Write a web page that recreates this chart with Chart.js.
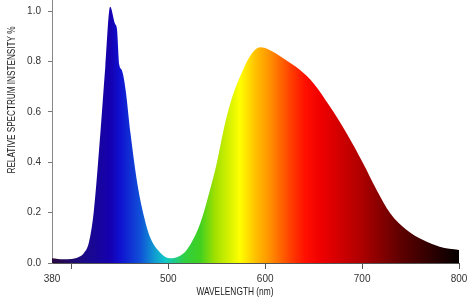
<!DOCTYPE html>
<html><head><meta charset="utf-8">
<script src="https://cdn.jsdelivr.net/npm/chart.js@4"></script>
<style>html,body{margin:0;padding:0;background:#fff}#wrap{width:471px;height:300px}</style>
</head><body><div id="wrap"><canvas id="c" width="471" height="300"></canvas></div>
<script>
const wavelengths = [380, 392, 400, 408, 413, 418, 423, 430, 435, 440, 445, 447, 449.5, 452, 456, 461, 468, 475, 481, 492, 502, 510, 519, 533, 543, 550, 557, 564, 574, 585, 595, 605, 619, 636, 650, 667, 684, 701, 715, 729, 746, 763, 780, 800];
const intensity   = [0.019, 0.015, 0.016, 0.025, 0.04, 0.08, 0.2, 0.52, 0.78, 1.017, 0.95, 0.93, 0.786, 0.766, 0.686, 0.515, 0.317, 0.184, 0.104, 0.04, 0.019, 0.025, 0.052, 0.158, 0.29, 0.396, 0.527, 0.634, 0.739, 0.825, 0.856, 0.845, 0.812, 0.766, 0.713, 0.62, 0.515, 0.396, 0.29, 0.197, 0.131, 0.091, 0.065, 0.052];
const xTickValues = [380, 400, 500, 600, 700, 800];
const xTickLabels = ['380', '', '500', '600', '700', '800'];
const yTickValues = [0, 0.2, 0.4, 0.6, 0.8, 1.0];
const yTickLabels = ['0.0', '0.2', '0.4', '0.6', '0.8', '1.0'];
const gradientWavelengths = [380, 414, 440, 450, 471, 487, 497, 517, 533, 548, 574, 590, 605, 626, 641, 657, 698, 739, 770, 800];
const gradientColors = ['#2a0a40', '#1a0a88', '#1500b0', '#1010d0', '#1050d8', '#10a0d0', '#10c8c8', '#30d040', '#40d020', '#a0e000', '#ffff00', '#ffc000', '#ff9000', '#ff4000', '#ff1000', '#f00000', '#b00000', '#600000', '#300000', '#050000'];
const xTitle = 'WAVELENGTH (nm)';
const yTitle = 'RELATIVE SPECTRUM INSTENSITY %';

const FONT = '"Liberation Sans Narrow", "Liberation Sans", Arial, sans-serif';

function drawFitted(c, text, cx, cy, targetWidth, rotate) {
  c.save();
  c.translate(cx, cy);
  if (rotate) c.rotate(-Math.PI / 2);
  const w = c.measureText(text).width;
  const sx = Math.min(1, targetWidth / w);
  c.scale(sx, 1);
  c.fillText(text, 0, 0);
  c.restore();
}

const titlePlugin = {
  id: 'titles',
  afterDraw(chart) {
    const c = chart.ctx;
    c.save();
    c.fillStyle = '#222';
    c.font = '11px ' + FONT;
    c.textAlign = 'center';
    c.textBaseline = 'middle';
    drawFitted(c, xTitle, 235, 292, 77, false);
    drawFitted(c, yTitle, 12, 100, 147, true);
    c.restore();
  }
};

new Chart(document.getElementById('c'), {
  type: 'line',
  data: {
    datasets: [{
      data: wavelengths.map((w, i) => ({ x: w, y: intensity[i] })),
      fill: 'origin',
      borderWidth: 0,
      pointRadius: 0,
      cubicInterpolationMode: 'monotone',
      backgroundColor: (ctx) => {
        const chart = ctx.chart;
        if (!chart.chartArea) return 'rgba(0,0,0,0)';
        const xs = chart.scales.x;
        const x0 = xs.getPixelForValue(380), x1 = xs.getPixelForValue(800);
        const g = chart.ctx.createLinearGradient(x0, 0, x1, 0);
        gradientWavelengths.forEach((w, i) => g.addColorStop((w - 380) / 420, gradientColors[i]));
        return g;
      }
    }]
  },
  options: {
    responsive: false,
    animation: false,
    devicePixelRatio: 1,
    layout: { padding: { top: 0, right: 12, left: 0, bottom: 0 } },
    plugins: { legend: { display: false }, tooltip: { enabled: false } },
    scales: {
      x: {
        type: 'linear', min: 380, max: 800,
        afterBuildTicks: s => { s.ticks = xTickValues.map(v => ({ value: v })); },
        afterFit: s => { s.height = 37; s.paddingLeft = 0; s.paddingRight = 0; },
        ticks: {
          callback: v => xTickLabels[xTickValues.indexOf(v)],
          font: { family: FONT, size: 10 }, color: '#333', padding: 4,
          maxRotation: 0, autoSkip: false
        },
        grid: {
          drawOnChartArea: false, tickLength: 6, tickWidth: 1,
          tickColor: ctx => (ctx.tick && ctx.tick.value === 380) ? 'rgba(0,0,0,0)' : '#555'
        },
        border: { color: '#555', width: 1 }
      },
      y: {
        type: 'linear', min: 0, max: 1.044,
        afterBuildTicks: s => { s.ticks = yTickValues.map(v => ({ value: v })); },
        afterFit: s => { s.width = 52; s.paddingTop = 0; s.paddingBottom = 0; },
        ticks: {
          callback: v => yTickLabels[yTickValues.indexOf(v)],
          font: { family: FONT, size: 10 }, color: '#333', padding: 7
        },
        grid: { drawOnChartArea: false, tickLength: 4, tickWidth: 1, tickColor: '#777' },
        border: { color: '#888', width: 1 }
      }
    }
  },
  plugins: [titlePlugin]
});
</script>
</body></html>
